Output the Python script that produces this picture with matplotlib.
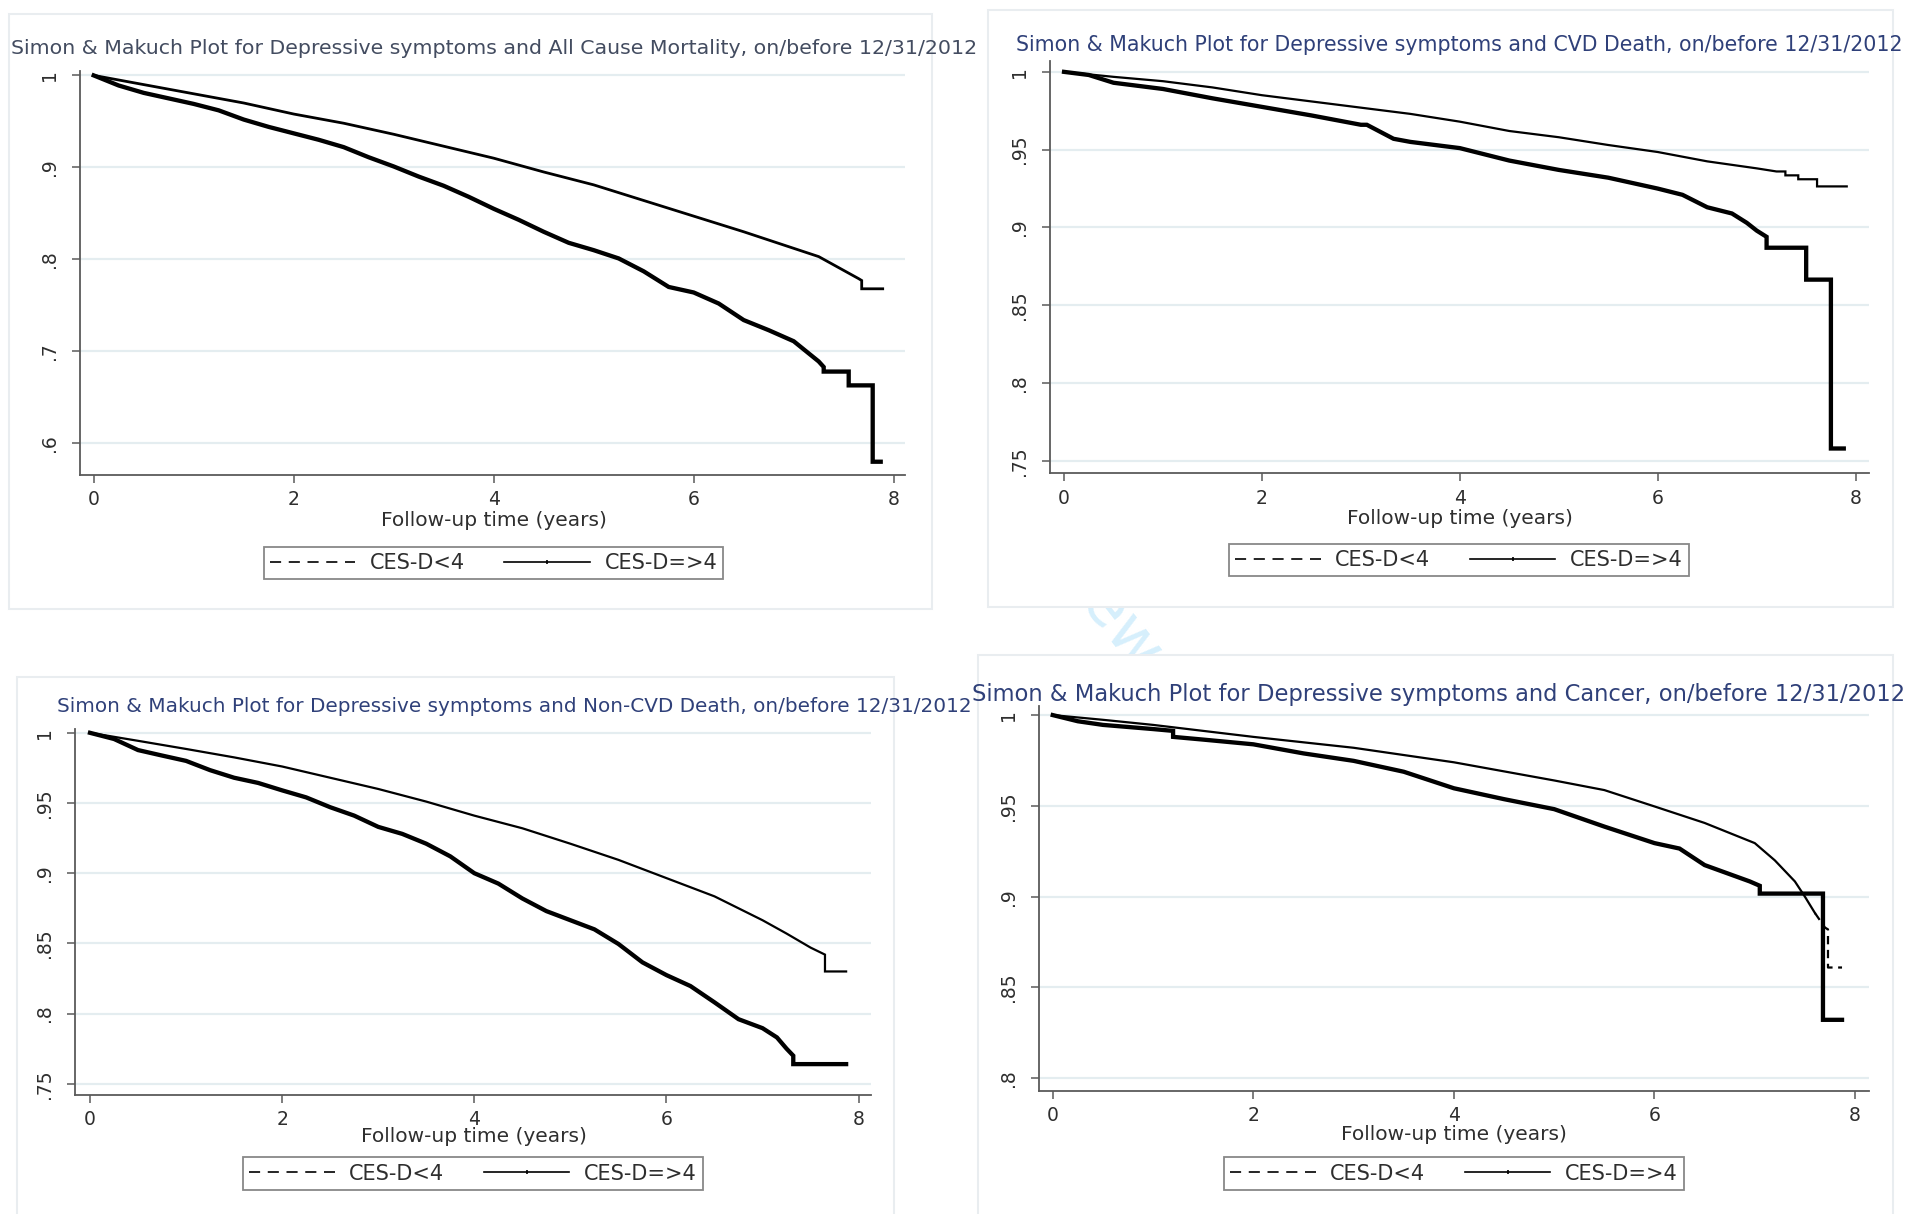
import matplotlib
matplotlib.use("Agg")
import matplotlib.pyplot as plt
from matplotlib.lines import Line2D
from matplotlib.patches import Rectangle
import numpy as np

plt.rcParams['font.family'] = ['DejaVu Sans']
plt.rcParams['lines.scale_dashes'] = False

# ---------------- data ----------------
series_labels = ["CES-D<4", "CES-D=>4"]
xlabel_text = "Follow-up time (years)"
titles = [
    "Simon & Makuch Plot for Depressive symptoms and All Cause Mortality, on/before 12/31/2012",
    "Simon & Makuch Plot for Depressive symptoms and CVD Death, on/before 12/31/2012",
    "Simon & Makuch Plot for Depressive symptoms and Non-CVD Death, on/before 12/31/2012",
    "Simon & Makuch Plot for Depressive symptoms and Cancer, on/before 12/31/2012",
]
xticks = [0, 2, 4, 6, 8]
yticks_allcause = [1.0, 0.9, 0.8, 0.7, 0.6]
ylabels_allcause = ["1", ".9", ".8", ".7", ".6"]
yticks_cvd = [1.0, 0.95, 0.9, 0.85, 0.8, 0.75]
ylabels_cvd = ["1", ".95", ".9", ".85", ".8", ".75"]
yticks_noncvd = [1.0, 0.95, 0.9, 0.85, 0.8, 0.75]
ylabels_noncvd = ["1", ".95", ".9", ".85", ".8", ".75"]
yticks_cancer = [1.0, 0.95, 0.9, 0.85, 0.8]
ylabels_cancer = ["1", ".95", ".9", ".85", ".8"]

# All cause mortality
allcause_low_t = [0, 0.5, 1, 1.5, 2, 2.5, 3, 3.5, 4, 4.5, 5, 5.5, 6, 6.5, 7, 7.25, 7.5, 7.65, 7.68, 7.68, 7.89]
allcause_low_s = [1, .990, .980, .970, .958, .948, .936, .923, .910, .895, .881, .864, .847, .830, .812, .803, .788, .779, .777, .768, .768]
allcause_high_t = [0, .25, .5, .75, 1, 1.25, 1.5, 1.75, 2, 2.25, 2.5, 2.75, 3, 3.25, 3.5, 3.75, 4, 4.25, 4.5, 4.75,
                   5, 5.25, 5.5, 5.75, 6, 6.25, 6.5, 6.75, 7, 7.25, 7.3, 7.3, 7.55, 7.55, 7.79, 7.79, 7.87]
allcause_high_s = [1, .989, .981, .975, .969, .962, .952, .944, .937, .930, .922, .911, .901, .890, .880, .868, .855, .843, .830, .818,
                   .810, .801, .787, .770, .764, .752, .734, .723, .711, .689, .683, .678, .678, .663, .663, .580, .580]

# CVD death
cvd_low_t = [0, .5, 1, 1.5, 2, 2.5, 3, 3.5, 4, 4.5, 5, 5.5, 6, 6.5, 7, 7.2, 7.29, 7.29, 7.42, 7.42, 7.61, 7.61, 7.91]
cvd_low_s = [1, .9968, .994, .990, .985, .981, .977, .973, .968, .962, .958, .953, .9485, .9425, .938, .936, .936, .9335, .9335, .931, .931, .9264, .9264]
cvd_high_t = [0, .25, .5, 1, 1.5, 2, 2.5, 3, 3.06, 3.33, 3.5, 4, 4.5, 5, 5.5, 6, 6.25, 6.5, 6.75, 6.9, 7.0, 7.1, 7.1, 7.5, 7.5, 7.75, 7.75, 7.88]
cvd_high_s = [1, .998, .993, .989, .983, .9775, .972, .966, .966, .957, .955, .951, .943, .937, .932, .925, .921, .913, .909, .903, .898, .894, .887, .887, .8665, .8665, .758, .758]

# Non-CVD death
noncvd_low_t = [0, .5, 1, 1.5, 2, 2.5, 3, 3.5, 4, 4.5, 5, 5.5, 6, 6.5, 7, 7.25, 7.5, 7.65, 7.65, 7.87]
noncvd_low_s = [1, .9943, .9885, .9825, .976, .968, .960, .951, .941, .932, .921, .9095, .8965, .8835, .8665, .857, .847, .842, .830, .830]
noncvd_high_t = [0, .25, .5, .75, 1, 1.25, 1.5, 1.75, 2, 2.25, 2.5, 2.75, 3, 3.25, 3.5, 3.75, 4, 4.25, 4.5, 4.75,
                 5, 5.25, 5.5, 5.75, 6, 6.25, 6.5, 6.75, 7, 7.15, 7.25, 7.32, 7.32, 7.87]
noncvd_high_s = [1, .9956, .9877, .9838, .980, .9734, .968, .9643, .959, .954, .947, .941, .933, .928, .921, .912, .900, .8926, .882, .873,
                 .8665, .860, .8496, .8365, .8274, .8196, .808, .796, .7896, .783, .775, .770, .764, .764]

# Cancer
cancer_low_t = [0, .5, 1, 1.5, 2, 2.5, 3, 3.5, 4, 4.5, 5, 5.5, 6, 6.5, 7, 7.2, 7.4, 7.5, 7.6, 7.7, 7.73, 7.73, 7.87]
cancer_low_s = [1, .9974, .9946, .9913, .988, .985, .982, .978, .974, .969, .964, .9587, .9497, .9406, .9295, .920, .9084, .900, .891, .883, .882, .861, .861]
cancer_high_t = [0, .25, .5, 1, 1.2, 1.2, 1.5, 2, 2.5, 3, 3.5, 4, 4.5, 5, 5.5, 6, 6.25, 6.5, 6.75, 6.95, 7.05, 7.05, 7.68, 7.68, 7.87]
cancer_high_s = [1, .9966, .9946, .9923, .9913, .988, .9865, .9839, .9789, .9748, .9688, .9597, .9537, .9482, .9386, .9295, .9265, .9174, .9124, .9084, .906, .9017, .9017, .8322, .8322]

# ---------------- layout (pixels) ----------------
W, H = 1910, 1214
fig = plt.figure(figsize=(W / 100, H / 100), dpi=100)
fig.patch.set_facecolor('white')

panels = [
    dict(low=(allcause_low_t, allcause_low_s), high=(allcause_high_t, allcause_high_s),
         yt=yticks_allcause, yl=ylabels_allcause,
         ax_px=(79.6, 70.8, 904.6, 474.6), xlim=(-0.141, 8.109), ylim=(0.566, 1.005),
         title_c=(494, 49), title_w=968, title_col='#434c60',
         xl_y=521, leg_c=(493.5, 563), box=(9, 14, 932, 609), low_lw=2.0, dash_from=None),
    dict(low=(cvd_low_t, cvd_low_s), high=(cvd_high_t, cvd_high_s),
         yt=yticks_cvd, yl=ylabels_cvd,
         ax_px=(1049.7, 60.5, 1869, 473.4), xlim=(-0.145, 8.135), ylim=(0.742, 1.0073),
         title_c=(1459, 45), title_w=889, title_col='#2f4079',
         xl_y=519, leg_c=(1459, 560), box=(988, 10, 1893, 607), low_lw=1.6, dash_from=None),
    dict(low=(noncvd_low_t, noncvd_low_s), high=(noncvd_high_t, noncvd_high_s),
         yt=yticks_noncvd, yl=ylabels_noncvd,
         ax_px=(75.3, 728.6, 871, 1095), xlim=(-0.153, 8.129), ylim=(0.742, 1.003),
         title_c=(514, 707), title_w=912, title_col='#2f4079',
         xl_y=1137, leg_c=(473, 1173.5), box=(17, 677, 894, 1230), low_lw=1.6, dash_from=None),
    dict(low=(cancer_low_t, cancer_low_s), high=(cancer_high_t, cancer_high_s),
         yt=yticks_cancer, yl=ylabels_cancer,
         ax_px=(1038.8, 706, 1869, 1091), xlim=(-0.139, 8.139), ylim=(0.793, 1.005),
         title_c=(1439, 694), title_w=934, title_col='#2f4079',
         xl_y=1134, leg_c=(1454, 1173.5), box=(978, 655, 1893, 1230), low_lw=1.6, dash_from=7.6),
]

# faint watermark, mostly hidden behind the panels
fig.text(1078 / W, 1 - 578 / H, "Review", fontsize=46, color='#d6effc', rotation=-52,
         ha='center', va='center', zorder=-3)

renderer = fig.canvas.get_renderer()

def fit_text(x, y, s, target_w, color, base=14):
    t = fig.text(x / W, 1 - y / H, s, fontsize=base, color=color, ha='center', va='center')
    w = t.get_window_extent(renderer=renderer).width
    t.set_fontsize(base * target_w / w)
    return t

grid_col = '#e4edf0'
spine_col = '#5a5a5a'
text_col = '#2e2e2e'

for i, p in enumerate(panels):
    bx0, by0, bx1, by1 = p['box']
    fig.patches.append(Rectangle((bx0 / W, 1 - by1 / H), (bx1 - bx0) / W, (by1 - by0) / H,
                                 transform=fig.transFigure, facecolor='white',
                                 edgecolor='#e9edf0', lw=1.5, zorder=-1))
    l, t, r, b = p['ax_px']
    ax = fig.add_axes([l / W, 1 - b / H, (r - l) / W, (b - t) / H])
    ax.set_facecolor('none')
    ax.set_xlim(*p['xlim'])
    ax.set_ylim(*p['ylim'])
    for sp in ['top', 'right']:
        ax.spines[sp].set_visible(False)
    for sp in ['left', 'bottom']:
        ax.spines[sp].set_color(spine_col)
        ax.spines[sp].set_linewidth(1.3)
    ax.set_xticks(xticks)
    ax.set_xticklabels([str(v) for v in xticks])
    ax.set_yticks(p['yt'])
    ax.set_yticklabels(p['yl'], rotation=90, va='center')
    ax.tick_params(axis='both', direction='out', length=6, width=1.1, color=spine_col,
                   labelsize=13.5, labelcolor=text_col)
    ax.tick_params(axis='x', pad=5)
    ax.tick_params(axis='y', pad=9)
    ax.yaxis.grid(True, color=grid_col, lw=1.6)
    ax.set_axisbelow(True)

    lt, ls = np.array(p['low'][0]), np.array(p['low'][1])
    ht, hs = np.array(p['high'][0]), np.array(p['high'][1])
    if p['dash_from'] is None:
        ax.plot(lt, ls, color='black', lw=p['low_lw'], solid_joinstyle='miter', zorder=3)
    else:
        k = int(np.searchsorted(lt, p['dash_from']))
        ax.plot(lt[:k + 1], ls[:k + 1], color='black', lw=p['low_lw'], zorder=3)
        ax.plot(lt[k:], ls[k:], color='black', lw=p['low_lw'], ls=(0, (6, 4)), zorder=3)
    ax.plot(ht, hs, color='black', lw=3.1, solid_joinstyle='miter', zorder=4)

    fit_text(p['title_c'][0], p['title_c'][1], titles[i], p['title_w'], p['title_col'])
    xc = ax.transData.transform((4, 0))[0]
    fig.text(xc / W, 1 - p['xl_y'] / H, xlabel_text, fontsize=14.5, color=text_col,
             ha='center', va='center')
    h_low = Line2D([], [], color='black', lw=1.2, ls=(0, (8, 5.5)))
    h_high = Line2D([], [], color='black', lw=1.2, marker='|', markersize=3.5, markeredgewidth=1.2)
    leg = fig.legend([h_low, h_high], series_labels, loc='center',
                     bbox_to_anchor=(p['leg_c'][0] / W, 1 - p['leg_c'][1] / H),
                     ncol=2, fontsize=15, frameon=True, fancybox=False, shadow=False,
                     handlelength=4.1, handletextpad=0.7, columnspacing=1.9,
                     borderpad=0.3, numpoints=1, borderaxespad=0)
    leg.get_frame().set_edgecolor('#6a6a6a')
    leg.get_frame().set_linewidth(1.3)
    for tx in leg.get_texts():
        tx.set_color(text_col)

fig.savefig("out.png", dpi=100, facecolor='white')
